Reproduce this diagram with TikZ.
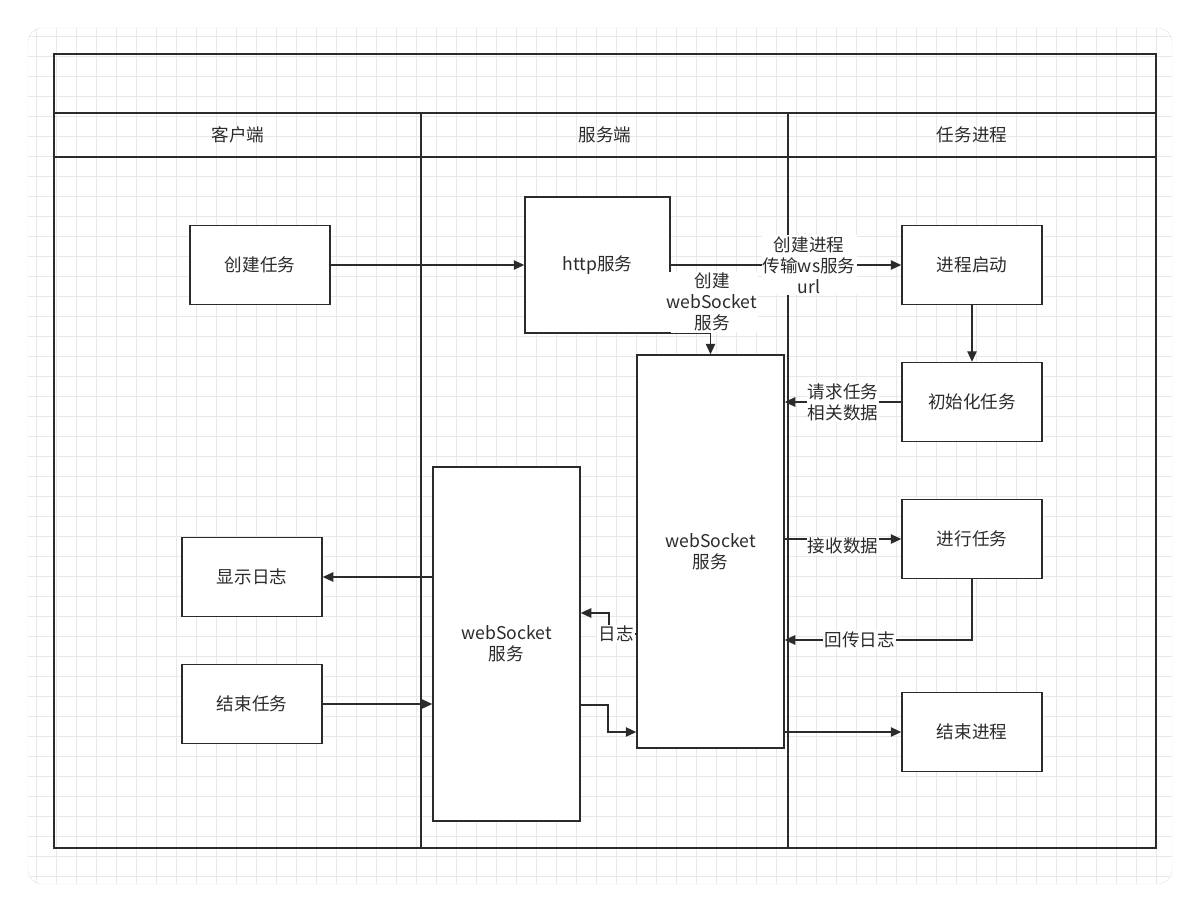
\documentclass[tikz,border=0pt]{standalone}
\usepackage{fontspec}
\setmainfont{Noto Sans CJK SC}
\usetikzlibrary{arrows.meta, positioning}
\definecolor{lineC}{HTML}{2B2B2B}
\definecolor{gridC}{HTML}{E8E8E8}
\begin{document}
\begin{tikzpicture}[x=0.03cm, y=-0.03cm,
  every node/.style={font=\fontsize{15}{18}\selectfont, text=lineC},
  box/.style={draw=lineC, line width=1.2pt, fill=white, align=center},
  task/.style={box, minimum width=140*0.03cm, minimum height=79*0.03cm},
  edge/.style={-{Triangle[length=9pt,width=8pt]}, line width=1.2pt, draw=lineC},
  edgeLabel/.style={fill=white, align=center, inner sep=1pt},
  lane/.style={draw=lineC, line width=1.2pt},
]
\useasboundingbox (0,0) rectangle (1200,911);
\fill[white] (0,0) rectangle (1200,911);
\draw[gridC, rounded corners=12pt, fill=white] (28,28) rectangle (1172,884);
\begin{scope}
  \clip[rounded corners=12pt] (28,28) rectangle (1172,884);
  \foreach \x in {36,56,...,1172} \draw[gridC, line width=0.5pt] (\x,28) -- (\x,884);
  \foreach \y in {36,56,...,884} \draw[gridC, line width=0.5pt] (28,\y) -- (1172,\y);
\end{scope}

% swimlanes
\draw[lane] (54,54) rectangle (1156,848);
\draw[lane] (54,113) -- (1156,113);
\draw[lane] (54,157) -- (1156,157);
\draw[lane] (421,113) -- (421,848);
\draw[lane] (788,113) -- (788,848);
\node (laneC) at (238,135) {客户端};
\node (laneS) at (605,135) {服务端};
\node (laneP) at (972,135) {任务进程};

% client
\node[task] (create) at (260,265) {创建任务};
\node[task] (showlog) at (252,577) {显示日志};
\node[task] (endtask) at (252,704) {结束任务};

% server
\node[box, minimum width=145*0.03cm, minimum height=136*0.03cm] (http) at (597.5,265) {http服务};
\node[box, minimum width=147*0.03cm, minimum height=393*0.03cm] (wsR) at (710.5,551.5) {webSocket\\服务};
\node[box, minimum width=147*0.03cm, minimum height=354*0.03cm] (wsL) at (506.5,644) {webSocket\\服务};

% process
\node[task] (start) at (972,265) {进程启动};
\node[task] (init) at (972,402) {初始化任务};
\node[task] (run) at (972,539) {进行任务};
\node[task] (stop) at (972,732) {结束进程};

% edges
\draw[edge] (create) -- (http);
\draw[edge] (http.east) -- (start.west) node[edgeLabel, pos=0.6] {创建进程\\传输ws服务\\url};
\draw[edge] (http.south east) -| (wsR.north);
\node[edgeLabel] (wsLabel) at (712,302) {创建\\webSocket\\服务};
\draw[edge] (start) -- (init);
\draw[edge] (init.west) -- (wsR.east |- init.west) node[edgeLabel, midway] {请求任务\\相关数据};
\draw[edge] (wsR.east |- run.west) -- (run.west) node[edgeLabel, midway, yshift=-6] {接收数据};
\coordinate (runDown) at (972,640);
\draw[edge] (run.south) -- (runDown) -- (wsR.east |- runDown) node[edgeLabel, pos=0.6] {回传日志};
\draw[edge] (wsR.east |- stop.west) -- (stop.west);
\draw[edge] (wsL.west |- showlog.east) -- (showlog.east);
\draw[edge] (endtask.east) -- (wsL.west |- endtask.east);
\coordinate (lrA) at (608,705);
\coordinate (lrB) at (608,732);
\draw[edge] (wsL.east |- lrA) -- (lrA) -- (lrB) -- (wsR.west |- lrB);
\coordinate (logA) at (609,634);
\coordinate (logB) at (609,613);
\draw[edge] (wsR.west |- logA) -- (logA) -- (logB) -- (wsL.east |- logB);
\node[edgeLabel] (logLabel) at (616,634) {日志};
\draw[box, fill=none] (wsR.north west) rectangle (wsR.south east);
\end{tikzpicture}
\end{document}
